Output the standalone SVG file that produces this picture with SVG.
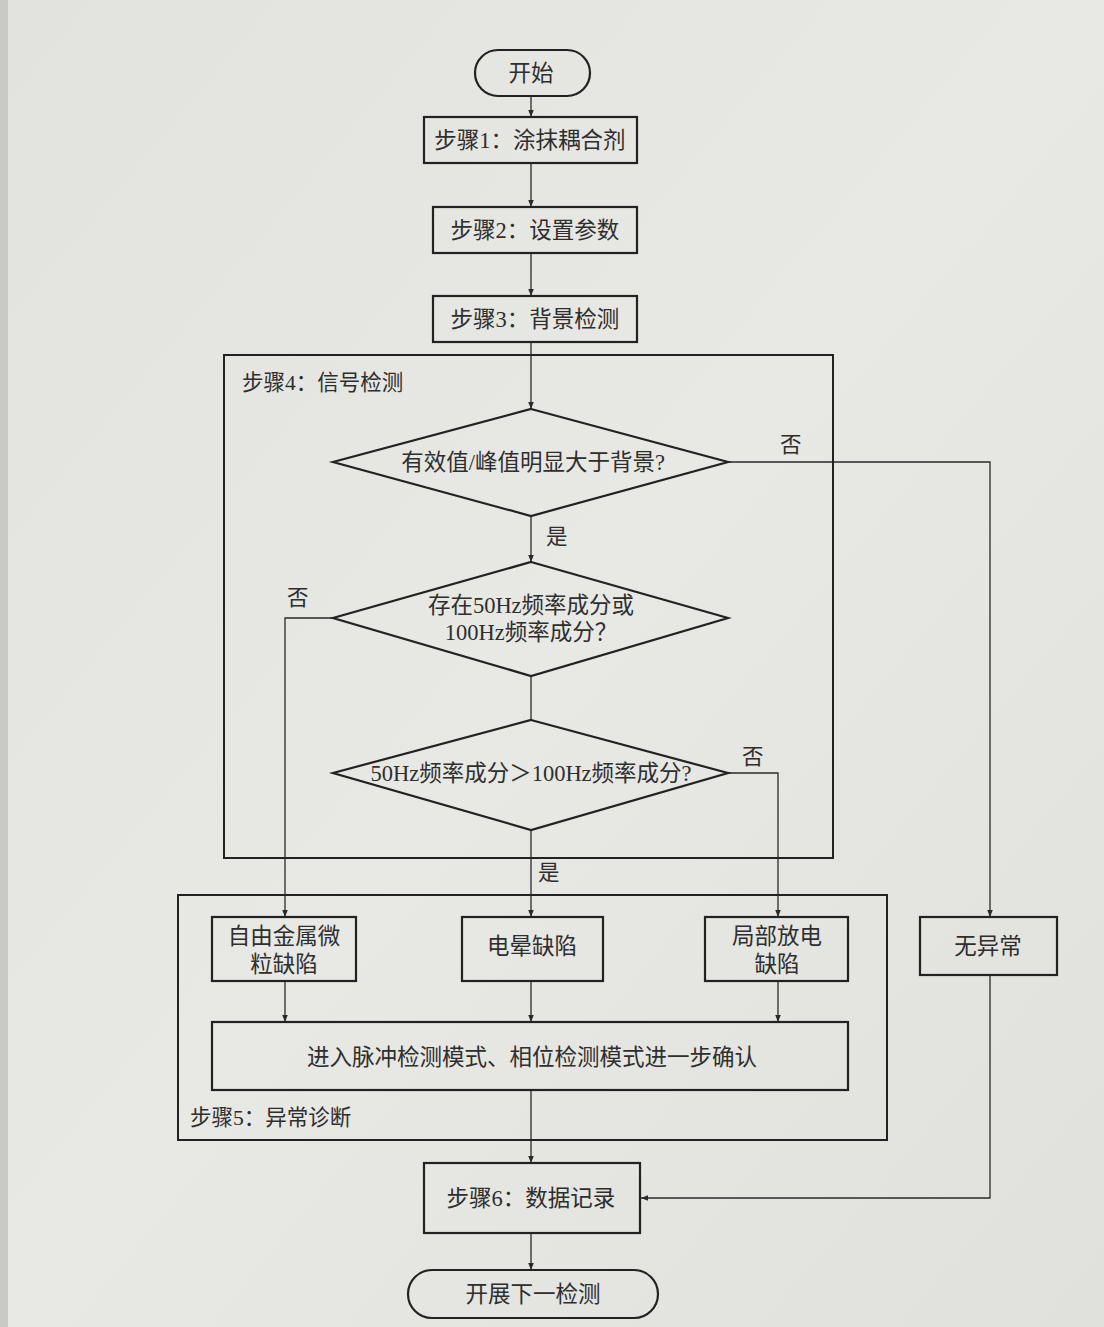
<svg xmlns="http://www.w3.org/2000/svg" width="1104" height="1327" viewBox="0 0 1104 1327">
<defs>
<marker id="arr" viewBox="0 0 10 10" refX="10" refY="5" markerWidth="7" markerHeight="9" orient="auto" markerUnits="userSpaceOnUse">
<path d="M0,1 L10,5 L0,9 z" fill="#2a2a2a"/>
</marker>
<linearGradient id="bg" x1="0" y1="0" x2="1" y2="1">
<stop offset="0" stop-color="#e2e2df"/>
<stop offset="0.5" stop-color="#e8e8e5"/>
<stop offset="1" stop-color="#e0e0dc"/>
</linearGradient>
</defs>
<style>
.box{fill:none;stroke:#222;stroke-width:2.2}
.cont{fill:none;stroke:#222;stroke-width:2}
.ln{fill:none;stroke:#2a2a2a;stroke-width:1.3}
.t{font-family:"Liberation Serif","Noto Sans CJK SC",serif;font-size:22.5px;fill:#2e2e2e;text-anchor:middle;dominant-baseline:central}
.l{font-family:"Liberation Serif","Noto Sans CJK SC",serif;font-size:21.5px;fill:#2e2e2e;dominant-baseline:central}
</style>
<rect width="1104" height="1327" fill="url(#bg)"/>
<rect x="0" y="0" width="8" height="1327" fill="#c9c9c6"/>

<g id="connectors">
<path class="ln" d="M531,96 V117" marker-end="url(#arr)"/>
<path class="ln" d="M531,163 V207" marker-end="url(#arr)"/>
<path class="ln" d="M531,253 V296" marker-end="url(#arr)"/>
<path class="ln" d="M531,342 V409" marker-end="url(#arr)"/>
<path class="ln" d="M531,516 V562" marker-end="url(#arr)"/>
<path class="ln" d="M531,676 V720"/>
<path class="ln" d="M531,830 V917" marker-end="url(#arr)"/>
<path class="ln" d="M728,462 H990 V917" marker-end="url(#arr)"/>
<path class="ln" d="M333,618 H285 V917" marker-end="url(#arr)"/>
<path class="ln" d="M728,773 H778 V917" marker-end="url(#arr)"/>
<path class="ln" d="M285,981 V1022" marker-end="url(#arr)"/>
<path class="ln" d="M531,981 V1022" marker-end="url(#arr)"/>
<path class="ln" d="M778,981 V1022" marker-end="url(#arr)"/>
<path class="ln" d="M531,1090 V1163" marker-end="url(#arr)"/>
<path class="ln" d="M990,975 V1198 H641" marker-end="url(#arr)"/>
<path class="ln" d="M531,1233 V1270" marker-end="url(#arr)"/>
<text class="l" x="780" y="445">否</text>
<text class="l" x="546" y="537">是</text>
<text class="l" x="287" y="598">否</text>
<text class="l" x="742" y="757">否</text>
<text class="l" x="538" y="873">是</text>
</g>

<g id="step4">
<rect class="cont" x="224" y="355" width="609" height="503"/>
<text class="l" x="242" y="383">步骤4：信号检测</text>
</g>
<g id="step5">
<rect class="cont" x="178" y="895" width="709" height="245"/>
<text class="l" x="190" y="1118">步骤5：异常诊断</text>
</g>

<g id="start">
<rect class="box" x="475" y="50" width="115" height="46" rx="23"/>
<text class="t" x="531" y="73">开始</text>
</g>
<g id="s1">
<rect class="box" x="424" y="117" width="213" height="46"/>
<text class="t" x="530" y="140">步骤1：涂抹耦合剂</text>
</g>
<g id="s2">
<rect class="box" x="433" y="207" width="204" height="46"/>
<text class="t" x="535" y="230">步骤2：设置参数</text>
</g>
<g id="s3">
<rect class="box" x="433" y="296" width="204" height="46"/>
<text class="t" x="535" y="319">步骤3：背景检测</text>
</g>
<g id="d1">
<polygon class="box" points="531,409 728,462 531,516 333,462"/>
<text class="t" x="533" y="462">有效值/峰值明显大于背景?</text>
</g>
<g id="d2">
<polygon class="box" points="531,562 728,618 531,676 333,618"/>
<text class="t" x="531" y="605">存在50Hz频率成分或</text>
<text class="t" x="531" y="632">100Hz频率成分？</text>
</g>
<g id="d3">
<polygon class="box" points="531,720 728,773 531,830 333,773"/>
<text class="t" x="531" y="773">50Hz频率成分＞100Hz频率成分?</text>
</g>
<g id="b1">
<rect class="box" x="212" y="917" width="144" height="64"/>
<text class="t" x="284" y="936">自由金属微</text>
<text class="t" x="284" y="964">粒缺陷</text>
</g>
<g id="b2">
<rect class="box" x="462" y="917" width="141" height="64"/>
<text class="t" x="532" y="946">电晕缺陷</text>
</g>
<g id="b3">
<rect class="box" x="705" y="917" width="143" height="64"/>
<text class="t" x="777" y="936">局部放电</text>
<text class="t" x="777" y="964">缺陷</text>
</g>
<g id="b4">
<rect class="box" x="920" y="917" width="137" height="58"/>
<text class="t" x="988" y="946">无异常</text>
</g>
<g id="b5">
<rect class="box" x="212" y="1022" width="636" height="68"/>
<text class="t" x="532" y="1057">进入脉冲检测模式、相位检测模式进一步确认</text>
</g>
<g id="s6">
<rect class="box" x="424" y="1163" width="216" height="70"/>
<text class="t" x="531" y="1198">步骤6：数据记录</text>
</g>
<g id="end">
<rect class="box" x="408" y="1270" width="250" height="48" rx="24"/>
<text class="t" x="533" y="1294">开展下一检测</text>
</g>
</svg>
